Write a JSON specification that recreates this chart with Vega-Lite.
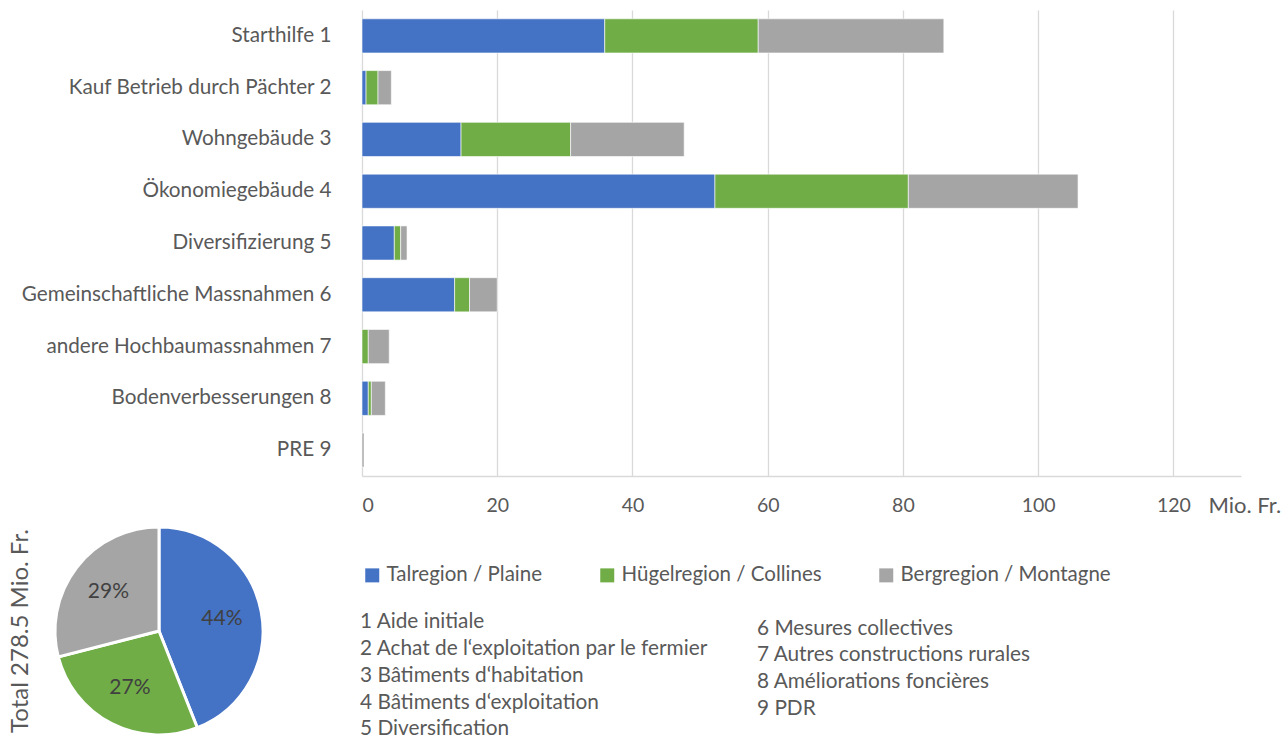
{
  "$schema": "https://vega.github.io/schema/vega-lite/v6.json",
  "padding": {"left": 8, "top": 10, "right": 0, "bottom": 0},
  "background": "white",
  "config": {
    "font": "Lato",
    "view": {"stroke": null},
    "title": {"font": "Lato"},
    "axis": {"labelFont": "Lato", "titleFont": "Lato"},
    "legend": {"labelFont": "Lato"}
  },
  "datasets": {
    "bars": [
      {"Massnahme": "Starthilfe 1", "Region": "Talregion / Plaine", "Mio": 35.9},
      {"Massnahme": "Starthilfe 1", "Region": "Hügelregion / Collines", "Mio": 22.7},
      {"Massnahme": "Starthilfe 1", "Region": "Bergregion / Montagne", "Mio": 27.45},
      {"Massnahme": "Kauf Betrieb durch Pächter 2", "Region": "Talregion / Plaine", "Mio": 0.6},
      {"Massnahme": "Kauf Betrieb durch Pächter 2", "Region": "Hügelregion / Collines", "Mio": 1.77},
      {"Massnahme": "Kauf Betrieb durch Pächter 2", "Region": "Bergregion / Montagne", "Mio": 1.97},
      {"Massnahme": "Wohngebäude 3", "Region": "Talregion / Plaine", "Mio": 14.65},
      {"Massnahme": "Wohngebäude 3", "Region": "Hügelregion / Collines", "Mio": 16.2},
      {"Massnahme": "Wohngebäude 3", "Region": "Bergregion / Montagne", "Mio": 16.8},
      {"Massnahme": "Ökonomiegebäude 4", "Region": "Talregion / Plaine", "Mio": 52.2},
      {"Massnahme": "Ökonomiegebäude 4", "Region": "Hügelregion / Collines", "Mio": 28.6},
      {"Massnahme": "Ökonomiegebäude 4", "Region": "Bergregion / Montagne", "Mio": 25.1},
      {"Massnahme": "Diversifizierung 5", "Region": "Talregion / Plaine", "Mio": 4.78},
      {"Massnahme": "Diversifizierung 5", "Region": "Hügelregion / Collines", "Mio": 0.94},
      {"Massnahme": "Diversifizierung 5", "Region": "Bergregion / Montagne", "Mio": 0.94},
      {"Massnahme": "Gemeinschaftliche Massnahmen 6", "Region": "Talregion / Plaine", "Mio": 13.7},
      {"Massnahme": "Gemeinschaftliche Massnahmen 6", "Region": "Hügelregion / Collines", "Mio": 2.2},
      {"Massnahme": "Gemeinschaftliche Massnahmen 6", "Region": "Bergregion / Montagne", "Mio": 4.1},
      {"Massnahme": "andere Hochbaumassnahmen 7", "Region": "Talregion / Plaine", "Mio": 0},
      {"Massnahme": "andere Hochbaumassnahmen 7", "Region": "Hügelregion / Collines", "Mio": 0.93},
      {"Massnahme": "andere Hochbaumassnahmen 7", "Region": "Bergregion / Montagne", "Mio": 3.1},
      {"Massnahme": "Bodenverbesserungen 8", "Region": "Talregion / Plaine", "Mio": 0.93},
      {"Massnahme": "Bodenverbesserungen 8", "Region": "Hügelregion / Collines", "Mio": 0.45},
      {"Massnahme": "Bodenverbesserungen 8", "Region": "Bergregion / Montagne", "Mio": 2.07},
      {"Massnahme": "PRE 9", "Region": "Talregion / Plaine", "Mio": 0},
      {"Massnahme": "PRE 9", "Region": "Hügelregion / Collines", "Mio": 0},
      {"Massnahme": "PRE 9", "Region": "Bergregion / Montagne", "Mio": 0.3}
    ],
    "shares": [
      {"Region": "Talregion / Plaine", "share": 0.44},
      {"Region": "Hügelregion / Collines", "share": 0.27},
      {"Region": "Bergregion / Montagne", "share": 0.29}
    ],
    "notes": [
      {"Nr": 1, "Text": "1 Aide initiale"},
      {"Nr": 2, "Text": "2 Achat de l‘exploitation par le fermier"},
      {"Nr": 3, "Text": "3 Bâtiments d‘habitation"},
      {"Nr": 4, "Text": "4 Bâtiments d‘exploitation"},
      {"Nr": 5, "Text": "5 Diversification"},
      {"Nr": 6, "Text": "6 Mesures collectives"},
      {"Nr": 7, "Text": "7 Autres constructions rurales"},
      {"Nr": 8, "Text": "8 Améliorations foncières"},
      {"Nr": 9, "Text": "9 PDR"}
    ]
  },
  "spacing": 5,
  "vconcat": [
    {
      "bounds": "flush",
      "spacing": 7,
      "hconcat": [
        {
          "width": 300,
          "height": 466,
          "data": {"values": [{"leer": ""}]},
          "mark": {"type": "text"},
          "encoding": {"text": {"field": "leer"}}
        },
        {
          "width": 879,
          "height": 466,
          "data": {"name": "bars"},
          "mark": {"type": "bar", "stroke": "white", "strokeWidth": 0.6},
          "encoding": {
            "y": {
              "field": "Massnahme",
              "type": "nominal",
              "sort": ["Starthilfe 1", "Kauf Betrieb durch Pächter 2", "Wohngebäude 3", "Ökonomiegebäude 4", "Diversifizierung 5", "Gemeinschaftliche Massnahmen 6", "andere Hochbaumassnahmen 7", "Bodenverbesserungen 8", "PRE 9"],
              "scale": {"paddingInner": 0.34, "paddingOuter": 0.17},
              "axis": {"title": null, "domain": false, "ticks": false, "labelPadding": 31, "labelFontSize": 20.7, "labelColor": "#595959", "labelLimit": 400}
            },
            "x": {
              "field": "Mio",
              "type": "quantitative",
              "stack": "zero",
              "scale": {"domain": [0, 130], "nice": false},
              "axis": {
                "values": [0, 20, 40, 60, 80, 100, 120],
                "title": "Mio. Fr.",
                "grid": true,
                "gridColor": "#d9d9d9",
                "gridWidth": 1.3,
                "domainColor": "#d9d9d9",
                "domainWidth": 1.3,
                "ticks": false,
                "labelPadding": 20,
                "labelFontSize": 19.5,
                "labelColor": "#595959",
                "titleX": 846,
                "titleY": 19,
                "titleAlign": "left",
                "titleBaseline": "top",
                "titleFontWeight": "normal",
                "titleFontSize": 22,
                "titleColor": "#595959"
              }
            },
            "order": {"field": "Region", "sort": "descending"},
            "color": {
              "field": "Region",
              "type": "nominal",
              "sort": ["Talregion / Plaine", "Hügelregion / Collines", "Bergregion / Montagne"],
              "scale": {"domain": ["Talregion / Plaine", "Hügelregion / Collines", "Bergregion / Montagne"], "range": ["#4472C4", "#70AD47", "#A5A5A5"]},
              "legend": {
                "orient": "none",
                "legendX": 307,
                "legendY": 555,
                "direction": "horizontal",
                "title": null,
                "symbolType": "square",
                "symbolSize": 196,
                "symbolStrokeWidth": 0,
                "labelFontSize": 20.5,
                "labelColor": "#595959",
                "columnPadding": 54,
                "labelOffset": 4,
                "labelLimit": 400
              }
            }
          }
        }
      ]
    },
    {
      "spacing": 91,
      "hconcat": [
        {
          "width": 208,
          "height": 208,
          "data": {"name": "shares"},
          "title": {"text": "Total 278.5 Mio. Fr.", "orient": "left", "fontSize": 24, "fontWeight": "normal", "color": "#595959", "offset": 16, "anchor": "middle"},
          "encoding": {
            "theta": {"field": "share", "type": "quantitative", "stack": true},
            "order": {"field": "Region", "sort": "descending"}
          },
          "layer": [
            {
              "mark": {"type": "arc", "stroke": "white", "strokeWidth": 3},
              "encoding": {
                "color": {
                  "field": "Region",
                  "type": "nominal",
                  "sort": ["Talregion / Plaine", "Hügelregion / Collines", "Bergregion / Montagne"],
                  "scale": {"domain": ["Talregion / Plaine", "Hügelregion / Collines", "Bergregion / Montagne"], "range": ["#4472C4", "#70AD47", "#A5A5A5"]}
                }
              }
            },
            {
              "mark": {"type": "text", "radius": 64, "fontSize": 21, "color": "#404040"},
              "encoding": {
                "text": {"field": "share", "type": "quantitative", "format": ".0%"}
              }
            }
          ]
        },
        {
          "spacing": 0,
          "hconcat": [
            {
              "width": 397,
              "height": 208,
              "data": {"name": "notes"},
              "transform": [{"filter": "datum.Nr <= 5"}],
              "mark": {"type": "text", "align": "left", "baseline": "middle", "fontSize": 20.8, "color": "#595959"},
              "encoding": {
                "y": {"field": "Nr", "type": "quantitative", "scale": {"domain": [-2.556, 5.21], "reverse": true, "nice": false, "zero": false}, "axis": null},
                "x": {"value": 0},
                "text": {"field": "Text"}
              }
            },
            {
              "width": 350,
              "height": 208,
              "data": {"name": "notes"},
              "transform": [{"filter": "datum.Nr >= 6"}],
              "mark": {"type": "text", "align": "left", "baseline": "middle", "fontSize": 20.8, "color": "#595959"},
              "encoding": {
                "y": {"field": "Nr", "type": "quantitative", "scale": {"domain": [2.19, 9.98], "reverse": true, "nice": false, "zero": false}, "axis": null},
                "x": {"value": 0},
                "text": {"field": "Text"}
              }
            }
          ]
        }
      ]
    }
  ]
}
